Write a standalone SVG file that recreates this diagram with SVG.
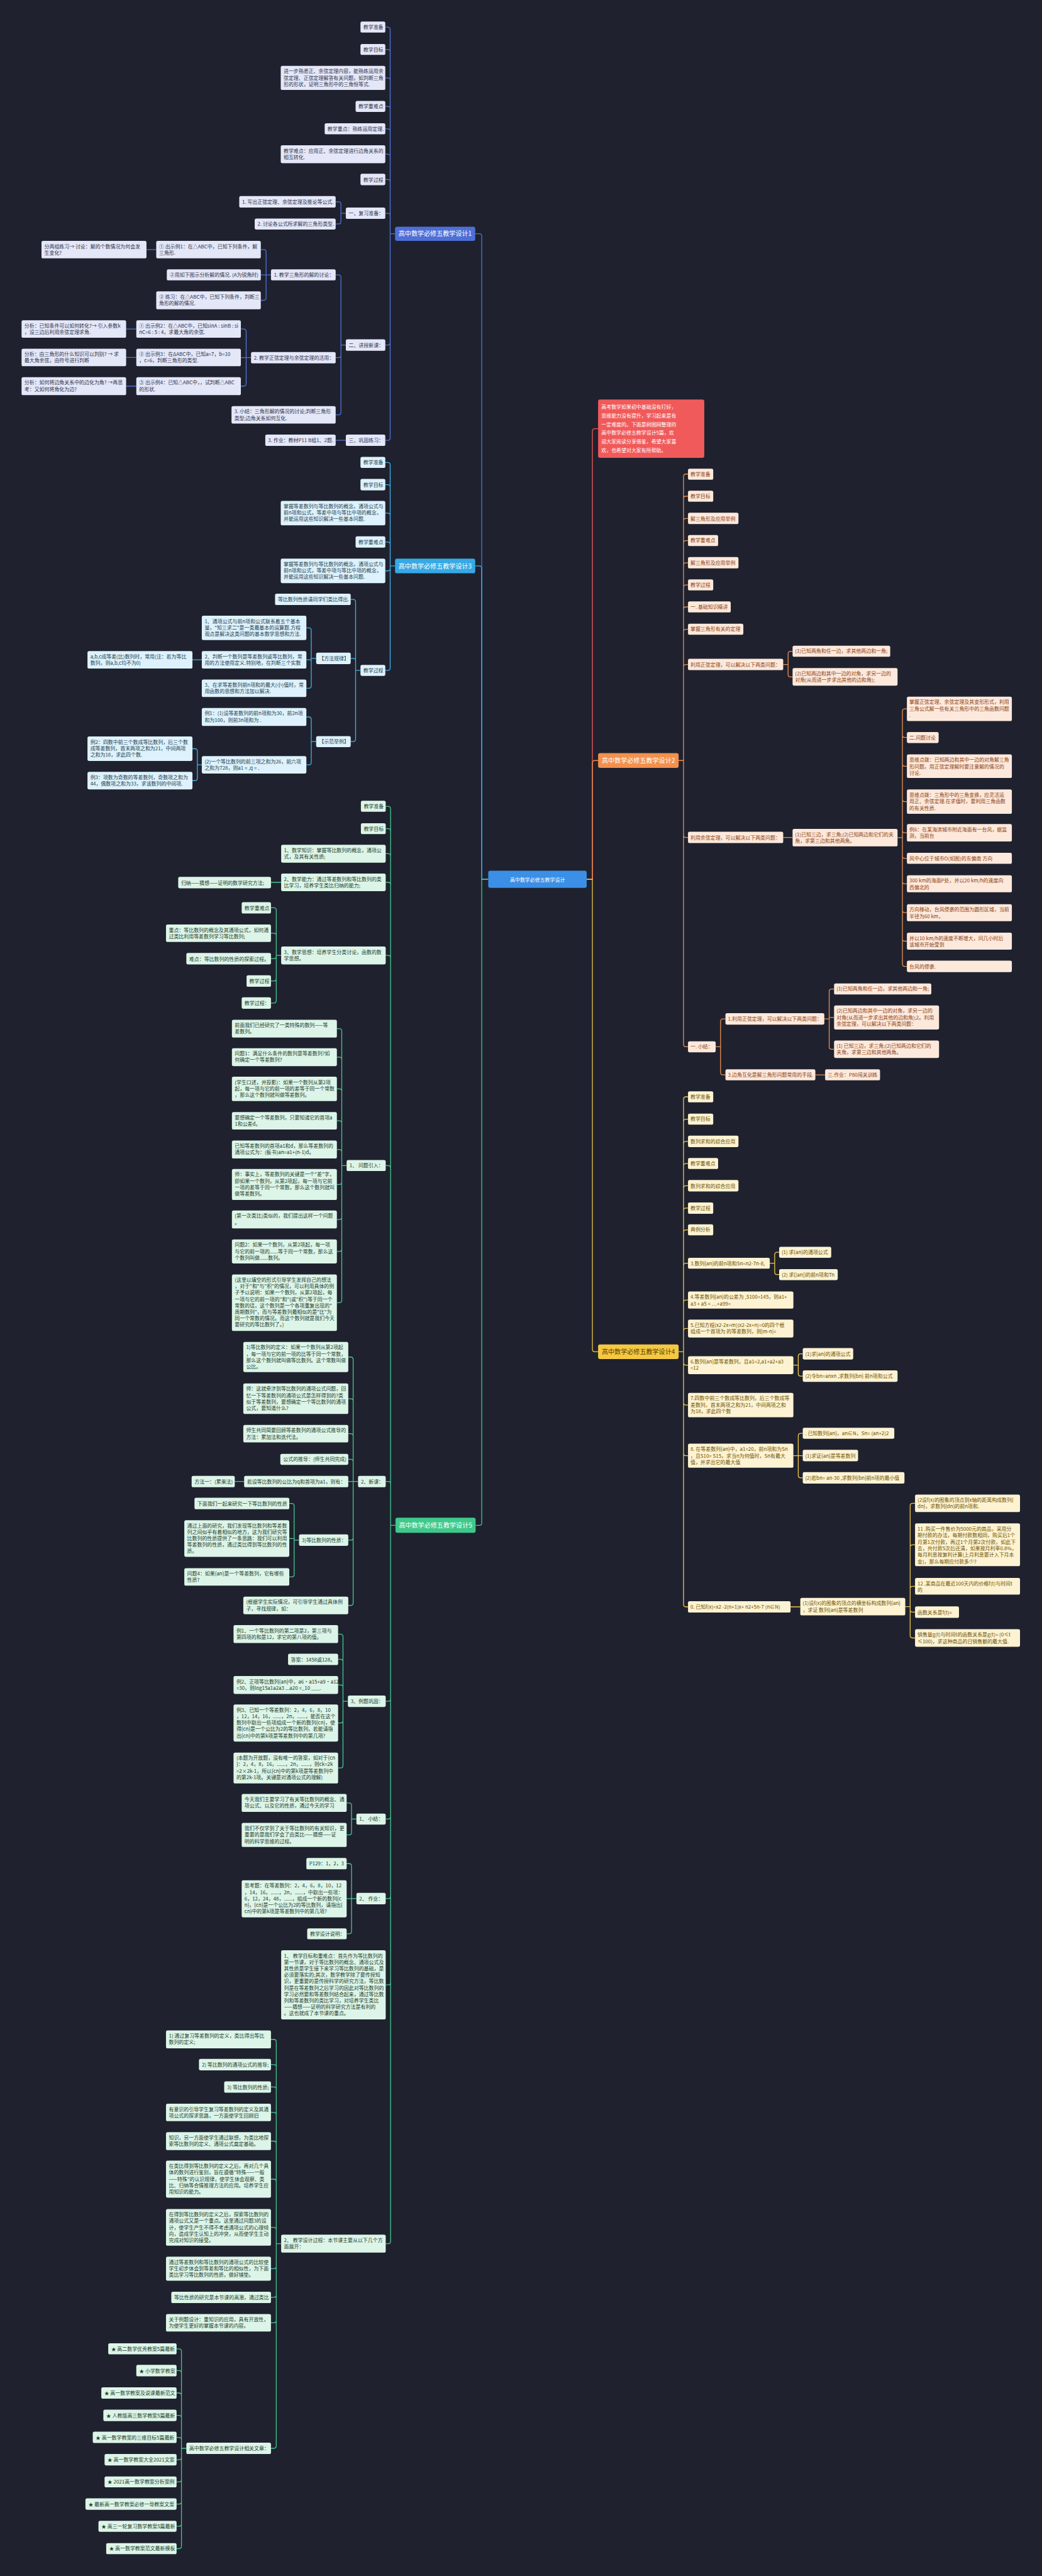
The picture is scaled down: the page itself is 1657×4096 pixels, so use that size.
<svg xmlns="http://www.w3.org/2000/svg" width="1657" height="4096" viewBox="0 0 1657 4096">
<style>
text{font-family:"Noto Sans CJK SC","Noto Sans",sans-serif;font-size:12.3px}
.bl rect{fill:#e4e7f8}.bl text{fill:#2d3248}
.cy rect{fill:#ddf2fc}.cy text{fill:#1f3c4c}
.gr rect{fill:#dcf5e8}.gr text{fill:#1f3a2c}
.or rect{fill:#fde9dc}.or text{fill:#8a3e10}
.ye rect{fill:#fdf3d3}.ye text{fill:#6e5200}
.br text{font-size:15.6px;text-anchor:middle}
path{fill:none;stroke-width:2}
.cbl{stroke:#5272d9}.ccy{stroke:#3fb0ea}.cgr{stroke:#45c890}.cor{stroke:#ec8f52}.cye{stroke:#f0c845}.cre{stroke:#f05a5a}
</style>
<rect width="1657" height="4096" fill="#1f222e"/>
<g transform="scale(0.647)">
<g id="connectors">
<path class="cbl" d="M1200,2161 H1184 V580.5 Q1184,574.5 1178,574.5 H1168 M971,574.5 H959 M959,72.5 V1076 M959,72.5 Q959,66.5 953,66.5 H947 M959,127.5 Q959,121.5 953,121.5 H947 M959,197.5 Q959,191.5 953,191.5 H947 M959,267.5 Q959,261.5 953,261.5 H947 M959,322.5 Q959,316.5 953,316.5 H947 M959,385 Q959,379 953,379 H947 M959,447 Q959,441 953,441 H947 M959,530 Q959,524 953,524 H947 M959,842 Q959,848 953,848 H947 M959,1076 Q959,1082 953,1082 H947 M850,524 H838 M838,502 V544.5 M838,502 Q838,496 832,496 H825 M838,544.5 Q838,550.5 832,550.5 H825 M850,848 H838 M838,681.5 V1013.5 M838,681.5 Q838,675.5 832,675.5 H825 M838,873 Q838,879 832,879 H825 M838,1013.5 Q838,1019.5 832,1019.5 H825 M666,675.5 H641 M654,619.5 V732 M654,619.5 Q654,613.5 648,613.5 H641 M654,732 Q654,738 648,738 H641 M384,613.5 H360 M850,1082 H825 M617,879 H592 M605,814.5 V943 M605,814.5 Q605,808.5 599,808.5 H592 M605,943 Q605,949 599,949 H592 M335,808.5 H310 M335,878.5 H310 M335,949 H310"/>
<path class="ccy" d="M1200,2161 H1184 V1397 Q1184,1391 1178,1391 H1168 M971,1391 H959 M959,1142.5 V1641.5 M959,1142.5 Q959,1136.5 953,1136.5 H947 M959,1197 Q959,1191 953,1191 H947 M959,1267 Q959,1261 953,1261 H947 M959,1338 Q959,1332 953,1332 H947 M959,1397 Q959,1403 953,1403 H947 M959,1641.5 Q959,1647.5 953,1647.5 H947 M886,1647.5 H874 M874,1479 V1816 M874,1479 Q874,1473 868,1473 H862 M874,1624 Q874,1618 868,1618 H862 M874,1816 Q874,1822.5 868,1822.5 H862 M777,1618 H765 M765,1549 V1685.5 M765,1549 Q765,1543 759,1543 H753 M765,1621.5 H753 M765,1685.5 Q765,1691.5 759,1691.5 H753 M496,1621.5 H473 M777,1822.5 H765 M765,1768 V1873.5 M765,1768 Q765,1762 759,1762 H753 M765,1873.5 Q765,1879.5 759,1879.5 H753 M496,1879.5 H485 M485,1846 V1912.5 M485,1846 Q485,1840 479,1840 H473 M485,1912.5 Q485,1918.5 479,1918.5 H473"/>
<path class="cgr" d="M1200,2161 H1184 V3742.5 Q1184,3748.5 1178,3748.5 H1169 M972,3748.5 H960 M960,1987.5 V5508 M960,1987.5 Q960,1981.5 954,1981.5 H948 M960,2042.5 Q960,2036.5 954,2036.5 H948 M960,2104 Q960,2098 954,2098 H948 M960,2174.5 Q960,2168.5 954,2168.5 H948 M960,2354 Q960,2348 954,2348 H948 M960,2870.5 Q960,2864.5 954,2864.5 H948 M960,3647 Q960,3641 954,3641 H948 M960,4175 Q960,4181 954,4181 H948 M960,4464.5 Q960,4470.5 954,4470.5 H948 M960,4660 Q960,4666 954,4666 H948 M960,4872 Q960,4878 954,4878 H948 M960,5508 Q960,5514 954,5514 H948 M691,2168.5 H666 M691,2348 H679 M679,2237 V2459 M679,2237 Q679,2231 673,2231 H666 M679,2299.5 Q679,2293.5 673,2293.5 H666 M679,2350 Q679,2356 673,2356 H666 M679,2405 Q679,2411 673,2411 H666 M679,2459 Q679,2465 673,2465 H666 M852,2864.5 H840 M840,2534 V3195.5 M840,2534 Q840,2528 834,2528 H828 M840,2604 Q840,2598 834,2598 H828 M840,2682 Q840,2676 834,2676 H828 M840,2760.5 Q840,2754.5 834,2754.5 H828 M840,2831 Q840,2825 834,2825 H828 M840,2905 Q840,2911 834,2911 H828 M840,2991 Q840,2997 834,2997 H828 M840,3069.5 Q840,3075.5 834,3075.5 H828 M840,3195.5 Q840,3201.5 834,3201.5 H828 M880,3641 H856 M868,3341 V3939.5 M868,3341 Q868,3335 862,3335 H856 M868,3443.5 Q868,3437.5 862,3437.5 H856 M868,3529.5 Q868,3523.5 862,3523.5 H856 M868,3592.5 Q868,3586.5 862,3586.5 H856 M868,3779 Q868,3785 862,3785 H856 M868,3939.5 Q868,3945.5 862,3945.5 H856 M600,3641 H577 M735,3785 H723 M723,3701 V3869.5 M723,3701 Q723,3695 717,3695 H711 M723,3781 H711 M723,3869.5 Q723,3875.5 717,3875.5 H711 M855,4181 H843 M843,4022 V4339 M843,4022 Q843,4016 837,4016 H831 M843,4084 Q843,4078 837,4078 H831 M843,4147 Q843,4141 837,4141 H831 M843,4228.5 Q843,4234.5 837,4234.5 H831 M843,4339 Q843,4345 837,4345 H831 M876,4470.5 H864 M864,4437 V4503.5 M864,4437 Q864,4431 858,4431 H852 M864,4503.5 Q864,4509.5 858,4509.5 H852 M876,4666 H852 M864,4586 V4746.5 M864,4586 Q864,4580 858,4580 H852 M864,4746.5 Q864,4752.5 858,4752.5 H852 M691,5514 H679 M679,5018 V6011 M679,5018 Q679,5012 673,5012 H666 M679,5080 Q679,5074 673,5074 H666 M679,5135 Q679,5129 673,5129 H666 M679,5197.5 Q679,5191.5 673,5191.5 H666 M679,5268 Q679,5262 673,5262 H666 M679,5361.5 Q679,5355.5 673,5355.5 H666 M679,5480 Q679,5474 673,5474 H666 M679,5569.5 Q679,5575.5 673,5575.5 H666 M679,5640 Q679,5646 673,5646 H666 M679,5702.5 Q679,5708.5 673,5708.5 H666 M679,6011 Q679,6017 673,6017 H666 M458,6017 H446 M446,5778.5 V6257.5 M446,5778.5 Q446,5772.5 440,5772.5 H434 M446,5832 Q446,5826 440,5826 H434 M446,5887 Q446,5881 440,5881 H434 M446,5942 Q446,5936 440,5936 H434 M446,5996 Q446,5990 440,5990 H434 M446,6039 Q446,6045 440,6045 H434 M446,6093.5 Q446,6099.5 440,6099.5 H434 M446,6148 Q446,6154 440,6154 H434 M446,6202.5 Q446,6208.5 440,6208.5 H434 M446,6257.5 Q446,6263.5 440,6263.5 H434"/>
<path class="cre" d="M1442,2161 H1456 V1059.5 Q1456,1053.5 1462,1053.5 H1470"/>
<path class="cor" d="M1442,2161 H1456 V1875 Q1456,1869 1462,1869 H1470 M1668,1869 H1680 M1680,1171 V2566.5 M1680,1171 Q1680,1165 1686,1165 H1691 M1680,1225.5 Q1680,1219.5 1686,1219.5 H1691 M1680,1280 Q1680,1274 1686,1274 H1691 M1680,1334.5 Q1680,1328.5 1686,1328.5 H1691 M1680,1389 Q1680,1383 1686,1383 H1691 M1680,1443.5 Q1680,1437.5 1686,1437.5 H1691 M1680,1497.5 Q1680,1491.5 1686,1491.5 H1691 M1680,1552.5 Q1680,1546.5 1686,1546.5 H1691 M1680,1639 Q1680,1633 1686,1633 H1691 M1680,2052 Q1680,2058 1686,2058 H1691 M1680,2566.5 Q1680,2572.5 1686,2572.5 H1691 M1925,1633 H1937 M1937,1606.5 V1657.5 M1937,1606.5 Q1937,1600.5 1943,1600.5 H1948 M1937,1657.5 Q1937,1663.5 1943,1663.5 H1948 M1925,2058 H1948 M2206,2058.5 H2218 M2218,1748 V2369 M2218,1748 Q2218,1742 2224,1742 H2229 M2218,1806.5 Q2218,1812.5 2224,1812.5 H2229 M2218,1877 Q2218,1883 2224,1883 H2229 M2218,1964 Q2218,1970 2224,1970 H2229 M2218,2040.5 Q2218,2046.5 2224,2046.5 H2229 M2218,2103.5 Q2218,2109.5 2224,2109.5 H2229 M2218,2166 Q2218,2172 2224,2172 H2229 M2218,2237 Q2218,2243 2224,2243 H2229 M2218,2307 Q2218,2313 2224,2313 H2229 M2218,2369 Q2218,2375 2224,2375 H2229 M1759,2572.5 H1771 M1771,2510 V2635.5 M1771,2510 Q1771,2504 1777,2504 H1783 M1771,2635.5 Q1771,2641.5 1777,2641.5 H1783 M2026,2504 H2038 M2038,2436.5 V2572.5 M2038,2436.5 Q2038,2430.5 2044,2430.5 H2050 M2038,2500.5 H2050 M2038,2572.5 Q2038,2578.5 2044,2578.5 H2050 M2004,2641.5 H2028"/>
<path class="cye" d="M1442,2161 H1456 V3316 Q1456,3322 1462,3322 H1470 M1668,3322 H1680 M1680,2701.5 V3943 M1680,2701.5 Q1680,2695.5 1686,2695.5 H1691 M1680,2756.5 Q1680,2750.5 1686,2750.5 H1691 M1680,2811 Q1680,2805 1686,2805 H1691 M1680,2865.5 Q1680,2859.5 1686,2859.5 H1691 M1680,2920 Q1680,2914 1686,2914 H1691 M1680,2975 Q1680,2969 1686,2969 H1691 M1680,3028.5 Q1680,3022.5 1686,3022.5 H1691 M1680,3110.5 Q1680,3104.5 1686,3104.5 H1691 M1680,3201 Q1680,3195 1686,3195 H1691 M1680,3271 Q1680,3265 1686,3265 H1691 M1680,3349 Q1680,3355 1686,3355 H1691 M1680,3447 Q1680,3453 1686,3453 H1691 M1680,3571.5 Q1680,3577.5 1686,3577.5 H1691 M1680,3943 Q1680,3949 1686,3949 H1691 M1892,3104.5 H1904 M1904,3083.5 V3126.5 M1904,3083.5 Q1904,3077.5 1910,3077.5 H1915 M1904,3126.5 Q1904,3132.5 1910,3132.5 H1915 M1950,3355 H1962 M1962,3333 V3376 M1962,3333 Q1962,3327 1968,3327 H1973 M1962,3376 Q1962,3382 1968,3382 H1973 M1950,3577.5 H1973 M1962,3528.5 V3626 M1962,3528.5 Q1962,3522.5 1968,3522.5 H1973 M1962,3626 Q1962,3632 1968,3632 H1973 M1943,3949 H1967 M2225,3948.5 H2237 M2237,3700.5 V4019.5 M2237,3700.5 Q2237,3694.5 2243,3694.5 H2249 M2237,3802.5 Q2237,3796.5 2243,3796.5 H2249 M2237,3904.5 Q2237,3898.5 2243,3898.5 H2249 M2237,3956 Q2237,3962 2243,3962 H2249 M2237,4019.5 Q2237,4025.5 2243,4025.5 H2249"/>
</g>
<g id="center"><rect x="1200" y="2140" width="242" height="42" rx="5" fill="#3b8fe6"/><text x="1321" y="2167" font-size="18" fill="#fff" text-anchor="middle">高中数学必修五教学设计</text></g>
<g id="intro"><rect x="1470" y="982" width="261" height="143" rx="5" fill="#f05a5a"/><text x="1478" y="1005" font-size="15" fill="#fff">高考数学如果初中基础没有打好，<tspan x="1478" dy="21.2">思维能力没有提升，学习起来是有</tspan><tspan x="1478" dy="21.2">一定难度的。下面是树图网整理的</tspan><tspan x="1478" dy="21.2">高中数学必修五教学设计5篇，欢</tspan><tspan x="1478" dy="21.2">迎大家阅读分享借鉴，希望大家喜</tspan><tspan x="1478" dy="21.2">欢，也希望对大家有所帮助。</tspan></text></g>
<g id="br1" class="br"><rect x="971" y="557" width="197" height="35" rx="5" fill="#4f6fd8"/><text x="1069.5" y="580" fill="#fff">高中数学必修五教学设计1</text></g>
<g id="br3" class="br"><rect x="971" y="1373" width="197" height="36" rx="5" fill="#36a9e6"/><text x="1069.5" y="1396.5" fill="#fff">高中数学必修五教学设计3</text></g>
<g id="br5" class="br"><rect x="972" y="3730" width="197" height="37" rx="5" fill="#3ec98b"/><text x="1070.5" y="3754" fill="#fff">高中数学必修五教学设计5</text></g>
<g id="br2" class="br"><rect x="1470" y="1851" width="198" height="36" rx="5" fill="#f2904c"/><text x="1569" y="1874.5" fill="#fff">高中数学必修五教学设计2</text></g>
<g id="br4" class="br"><rect x="1470" y="3304" width="198" height="36" rx="5" fill="#f5c842"/><text x="1569" y="3327.5" fill="#5a3f00">高中数学必修五教学设计4</text></g>

<g id="b1-01" class="bl"><rect x="886" y="53" width="61" height="27" rx="4"/><text x="893" y="71">教学准备</text></g>
<g id="b1-02" class="bl"><rect x="886" y="108" width="61" height="27" rx="4"/><text x="893" y="126">教学目标</text></g>
<g id="b1-03" class="bl"><rect x="690" y="162" width="257" height="59" rx="4"/><text x="697" y="180">进一步熟悉正、余弦定理内容，能熟练运用余<tspan x="697" dy="15.7">弦定理、正弦定理解答有关问题，如判断三角</tspan><tspan x="697" dy="15.7">形的形状，证明三角形中的三角恒等式.</tspan></text></g>
<g id="b1-04" class="bl"><rect x="874" y="248" width="73" height="27" rx="4"/><text x="881" y="266">教学重难点</text></g>
<g id="b1-05" class="bl"><rect x="798" y="303" width="149" height="27" rx="4"/><text x="805" y="321">教学重点：熟练运用定理.</text></g>
<g id="b1-06" class="bl"><rect x="690" y="357" width="257" height="44" rx="4"/><text x="697" y="375">教学难点：应用正、余弦定理进行边角关系的<tspan x="697" dy="15.7">相互转化.</tspan></text></g>
<g id="b1-07" class="bl"><rect x="886" y="427" width="61" height="28" rx="4"/><text x="893" y="446">教学过程</text></g>
<g id="b1-08" class="bl"><rect x="850" y="510" width="97" height="28" rx="4"/><text x="857" y="529">一、复习准备：</text></g>
<g id="b1-09" class="bl"><rect x="588" y="482" width="237" height="28" rx="4"/><text x="595" y="501">1. 写出正弦定理、余弦定理及推论等公式.</text></g>
<g id="b1-10" class="bl"><rect x="626" y="537" width="199" height="27" rx="4"/><text x="633" y="555">2. 讨论各公式所求解的三角形类型.</text></g>
<g id="b1-11" class="bl"><rect x="850" y="834" width="97" height="28" rx="4"/><text x="857" y="853">二、讲授新课：</text></g>
<g id="b1-12" class="bl"><rect x="666" y="662" width="159" height="27" rx="4"/><text x="673" y="680">1. 教学三角形的解的讨论：</text></g>
<g id="b1-13" class="bl"><rect x="384" y="592" width="257" height="43" rx="4"/><text x="391" y="610">① 出示例1：在△ABC中，已知下列条件，解<tspan x="391" dy="15.7">三角形.</tspan></text></g>
<g id="b1-14" class="bl"><rect x="102" y="592" width="258" height="43" rx="4"/><text x="109" y="610">分两组练习→ 讨论：解的个数情况为何会发<tspan x="109" dy="15.7">生变化?</tspan></text></g>
<g id="b1-15" class="bl"><rect x="410" y="662" width="231" height="27" rx="4"/><text x="417" y="680">②用如下图示分析解的情况. (A为锐角时)</text></g>
<g id="b1-16" class="bl"><rect x="384" y="716" width="257" height="44" rx="4"/><text x="391" y="734">② 练习：在△ABC中，已知下列条件，判断三<tspan x="391" dy="15.7">角形的解的情况.</tspan></text></g>
<g id="b1-17" class="bl"><rect x="617" y="865" width="208" height="28" rx="4"/><text x="624" y="884">2. 教学正弦定理与余弦定理的活用：</text></g>
<g id="b1-18" class="bl"><rect x="335" y="787" width="257" height="43" rx="4"/><text x="342" y="805">① 出示例2：在△ABC中，已知sinA : sinB : si<tspan x="342" dy="15.7">nC=6 : 5 : 4，求最大角的余弦.</tspan></text></g>
<g id="b1-19" class="bl"><rect x="53" y="787" width="257" height="43" rx="4"/><text x="60" y="805">分析：已知条件可以如何转化?→ 引入参数k<tspan x="60" dy="15.7">，设三边后利用余弦定理求角.</tspan></text></g>
<g id="b1-20" class="bl"><rect x="335" y="857" width="257" height="43" rx="4"/><text x="342" y="875">② 出示例3：在ΔABC中，已知a=7，b=10<tspan x="342" dy="15.7">，c=6，判断三角形的类型.</tspan></text></g>
<g id="b1-21" class="bl"><rect x="53" y="857" width="257" height="43" rx="4"/><text x="60" y="875">分析：由三角形的什么知识可以判别? → 求<tspan x="60" dy="15.7">最大角余弦，由符号进行判断</tspan></text></g>
<g id="b1-22" class="bl"><rect x="335" y="927" width="257" height="44" rx="4"/><text x="342" y="945">③ 出示例4：已知△ABC中，，试判断△ABC<tspan x="342" dy="15.7">的形状.</tspan></text></g>
<g id="b1-23" class="bl"><rect x="53" y="927" width="257" height="44" rx="4"/><text x="60" y="945">分析：如何将边角关系中的边化为角? →再思<tspan x="60" dy="15.7">考：又如何将角化为边?</tspan></text></g>
<g id="b1-24" class="bl"><rect x="569" y="998" width="256" height="43" rx="4"/><text x="576" y="1016">3. 小结：三角形解的情况的讨论;判断三角形<tspan x="576" dy="15.7">类型;边角关系如何互化.</tspan></text></g>
<g id="b1-25" class="bl"><rect x="850" y="1068" width="97" height="28" rx="4"/><text x="857" y="1087">三、巩固练习：</text></g>
<g id="b1-26" class="bl"><rect x="652" y="1068" width="173" height="28" rx="4"/><text x="659" y="1087">3. 作业：教材P11 B组1、2题.</text></g>

<g id="b3-01" class="cy"><rect x="886" y="1123" width="61" height="27" rx="4"/><text x="893" y="1141">教学准备</text></g>
<g id="b3-02" class="cy"><rect x="886" y="1177" width="61" height="28" rx="4"/><text x="893" y="1196">教学目标</text></g>
<g id="b3-03" class="cy"><rect x="690" y="1231" width="257" height="60" rx="4"/><text x="697" y="1249">掌握等差数列与等比数列的概念，通项公式与<tspan x="697" dy="15.7">前n项和公式，等差中项与等比中项的概念，</tspan><tspan x="697" dy="15.7">并能运用这些知识解决一些基本问题.</tspan></text></g>
<g id="b3-04" class="cy"><rect x="874" y="1318" width="73" height="28" rx="4"/><text x="881" y="1337">教学重难点</text></g>
<g id="b3-05" class="cy"><rect x="690" y="1373" width="257" height="60" rx="4"/><text x="697" y="1391">掌握等差数列与等比数列的概念，通项公式与<tspan x="697" dy="15.7">前n项和公式，等差中项与等比中项的概念，</tspan><tspan x="697" dy="15.7">并能运用这些知识解决一些基本问题.</tspan></text></g>
<g id="b3-06" class="cy"><rect x="886" y="1634" width="61" height="27" rx="4"/><text x="893" y="1652">教学过程</text></g>
<g id="b3-07" class="cy"><rect x="676" y="1459" width="186" height="28" rx="4"/><text x="683" y="1478">等比数列性质请同学们类比得出.</text></g>
<g id="b3-08" class="cy"><rect x="777" y="1604" width="85" height="28" rx="4"/><text x="784" y="1623">【方法规律】</text></g>
<g id="b3-09" class="cy"><rect x="496" y="1513" width="257" height="60" rx="4"/><text x="503" y="1531">1、通项公式与前n项和公式联系着五个基本<tspan x="503" dy="15.7">量，"知三求二"是一类最基本的运算题.方程</tspan><tspan x="503" dy="15.7">观点是解决这类问题的基本数学思想和方法.</tspan></text></g>
<g id="b3-10" class="cy"><rect x="496" y="1600" width="257" height="43" rx="4"/><text x="503" y="1618">2、判断一个数列是等差数列或等比数列，常<tspan x="503" dy="15.7">用的方法使用定义.特别地，在判断三个实数</tspan></text></g>
<g id="b3-11" class="cy"><rect x="215" y="1600" width="258" height="43" rx="4"/><text x="222" y="1618">a,b,c成等差(比)数列时，常用(注：若为等比<tspan x="222" dy="15.7">数列，则a,b,c均不为0)</tspan></text></g>
<g id="b3-12" class="cy"><rect x="496" y="1670" width="257" height="43" rx="4"/><text x="503" y="1688">3、在求等差数列前n项和的最大(小)值时，常<tspan x="503" dy="15.7">用函数的思想和方法加以解决.</tspan></text></g>
<g id="b3-13" class="cy"><rect x="777" y="1809" width="85" height="27" rx="4"/><text x="784" y="1827">【示范举例】</text></g>
<g id="b3-14" class="cy"><rect x="496" y="1740" width="257" height="44" rx="4"/><text x="503" y="1758">例1：(1)设等差数列的前n项和为30，前2n项<tspan x="503" dy="15.7">和为100，则前3n项和为 .</tspan></text></g>
<g id="b3-15" class="cy"><rect x="496" y="1858" width="257" height="43" rx="4"/><text x="503" y="1876">(2)一个等比数列的前三项之和为26，前六项<tspan x="503" dy="15.7">之和为728，则a1 = ,q = .</tspan></text></g>
<g id="b3-16" class="cy"><rect x="215" y="1810" width="258" height="60" rx="4"/><text x="222" y="1828">例2：四数中前三个数成等比数列，后三个数<tspan x="222" dy="15.7">成等差数列，首末两项之和为21，中间两项</tspan><tspan x="222" dy="15.7">之和为18，求此四个数.</tspan></text></g>
<g id="b3-17" class="cy"><rect x="215" y="1897" width="258" height="43" rx="4"/><text x="222" y="1915">例3：项数为奇数的等差数列，奇数项之和为<tspan x="222" dy="15.7">44，偶数项之和为33，求该数列的中间项.</tspan></text></g>

<g id="b5-01" class="gr"><rect x="887" y="1968" width="61" height="27" rx="4"/><text x="894" y="1986">教学准备</text></g>
<g id="b5-02" class="gr"><rect x="887" y="2023" width="61" height="27" rx="4"/><text x="894" y="2041">教学目标</text></g>
<g id="b5-03" class="gr"><rect x="691" y="2076" width="257" height="44" rx="4"/><text x="698" y="2094">1、数学知识：掌握等比数列的概念，通项公<tspan x="698" dy="15.7">式，及其有关性质;</tspan></text></g>
<g id="b5-04" class="gr"><rect x="691" y="2147" width="257" height="43" rx="4"/><text x="698" y="2165">2、数学能力：通过等差数列和等比数列的类<tspan x="698" dy="15.7">比学习，培养学生类比归纳的能力;</tspan></text></g>
<g id="b5-05" class="gr"><rect x="438" y="2155" width="228" height="28" rx="4"/><text x="445" y="2174">归纳——猜想——证明的数学研究方法;</text></g>
<g id="b5-06" class="gr"><rect x="691" y="2326" width="257" height="44" rx="4"/><text x="698" y="2344">3、数学思想：培养学生分类讨论，函数的数<tspan x="698" dy="15.7">学思想。</tspan></text></g>
<g id="b5-07" class="gr"><rect x="594" y="2217" width="72" height="28" rx="4"/><text x="601" y="2236">教学重难点</text></g>
<g id="b5-08" class="gr"><rect x="408" y="2272" width="258" height="43" rx="4"/><text x="415" y="2290">重点：等比数列的概念及其通项公式，如何通<tspan x="415" dy="15.7">过类比利用等差数列学习等比数列;</tspan></text></g>
<g id="b5-09" class="gr"><rect x="458" y="2342" width="208" height="28" rx="4"/><text x="465" y="2361">难点：等比数列的性质的探索过程。</text></g>
<g id="b5-10" class="gr"><rect x="606" y="2397" width="60" height="28" rx="4"/><text x="613" y="2416">教学过程</text></g>
<g id="b5-11" class="gr"><rect x="594" y="2451" width="72" height="28" rx="4"/><text x="601" y="2470">教学过程：</text></g>
<g id="b5-12" class="gr"><rect x="852" y="2851" width="96" height="27" rx="4"/><text x="859" y="2869">1、 问题引入：</text></g>
<g id="b5-13" class="gr"><rect x="570" y="2506" width="258" height="44" rx="4"/><text x="577" y="2524">前面我们已经研究了一类特殊的数列——等<tspan x="577" dy="15.7">差数列。</tspan></text></g>
<g id="b5-14" class="gr"><rect x="570" y="2576" width="258" height="44" rx="4"/><text x="577" y="2594">问题1：满足什么条件的数列是等差数列?如<tspan x="577" dy="15.7">何确定一个等差数列?</tspan></text></g>
<g id="b5-15" class="gr"><rect x="570" y="2646" width="258" height="60" rx="4"/><text x="577" y="2664">(学生口述，并投影)：如果一个数列从第2项<tspan x="577" dy="15.7">起，每一项与它的前一项的差等于同一个常数</tspan><tspan x="577" dy="15.7">，那么这个数列就叫做等差数列。</tspan></text></g>
<g id="b5-16" class="gr"><rect x="570" y="2733" width="258" height="43" rx="4"/><text x="577" y="2751">要想确定一个等差数列，只要知道它的首项a<tspan x="577" dy="15.7">1和公差d。</tspan></text></g>
<g id="b5-17" class="gr"><rect x="570" y="2803" width="258" height="44" rx="4"/><text x="577" y="2821">已知等差数列的首项a1和d，那么等差数列的<tspan x="577" dy="15.7">通项公式为：(板书)an=a1+(n-1)d。</tspan></text></g>
<g id="b5-18" class="gr"><rect x="570" y="2873" width="258" height="76" rx="4"/><text x="577" y="2891">师：事实上，等差数列的关键是一个"差"字，<tspan x="577" dy="15.7">即如果一个数列，从第2项起，每一项与它前</tspan><tspan x="577" dy="15.7">一项的差等于同一个常数，那么这个数列就叫</tspan><tspan x="577" dy="15.7">做等差数列。</tspan></text></g>
<g id="b5-19" class="gr"><rect x="570" y="2975" width="258" height="44" rx="4"/><text x="577" y="2993">(第一次类比)类似的，我们提出这样一个问题<tspan x="577" dy="15.7">。</tspan></text></g>
<g id="b5-20" class="gr"><rect x="570" y="3046" width="258" height="59" rx="4"/><text x="577" y="3064">问题2：如果一个数列，从第2项起，每一项<tspan x="577" dy="15.7">与它的前一项的......等于同一个常数，那么这</tspan><tspan x="577" dy="15.7">个数列叫做......数列。</tspan></text></g>
<g id="b5-21" class="gr"><rect x="570" y="3132" width="258" height="139" rx="4"/><text x="577" y="3150">(这里以填空的形式引导学生发挥自己的想法<tspan x="577" dy="15.7">，对于"和"与"积"的情况，可以利用具体的例</tspan><tspan x="577" dy="15.7">子予以说明：如果一个数列，从第2项起，每</tspan><tspan x="577" dy="15.7">一项与它的前一项的"和"(或"积")等于同一个</tspan><tspan x="577" dy="15.7">常数的话，这个数列是一个各项重复出现的"</tspan><tspan x="577" dy="15.7">周期数列"，而与等差数列最相似的是"比"为</tspan><tspan x="577" dy="15.7">同一个常数的情况。而这个数列就是我们今天</tspan><tspan x="577" dy="15.7">要研究的等比数列了。)</tspan></text></g>
<g id="b5-22" class="gr"><rect x="880" y="3627" width="68" height="28" rx="4"/><text x="887" y="3646">2、新课：</text></g>
<g id="b5-23" class="gr"><rect x="598" y="3298" width="258" height="74" rx="4"/><text x="605" y="3316">1)等比数列的定义：如果一个数列从第2项起<tspan x="605" dy="15.7">，每一项与它的前一项的比等于同一个常数，</tspan><tspan x="605" dy="15.7">那么这个数列就叫做等比数列。这个常数叫做</tspan><tspan x="605" dy="15.7">公比。</tspan></text></g>
<g id="b5-24" class="gr"><rect x="598" y="3400" width="258" height="75" rx="4"/><text x="605" y="3418">师：这就牵涉到等比数列的通项公式问题，回<tspan x="605" dy="15.7">忆一下等差数列的通项公式是怎样得到的?类</tspan><tspan x="605" dy="15.7">似于等差数列，要想确定一个等比数列的通项</tspan><tspan x="605" dy="15.7">公式，要知道什么?</tspan></text></g>
<g id="b5-25" class="gr"><rect x="598" y="3502" width="258" height="43" rx="4"/><text x="605" y="3520">师生共同简要回顾等差数列的通项公式推导的<tspan x="605" dy="15.7">方法：累加法和迭代法。</tspan></text></g>
<g id="b5-26" class="gr"><rect x="689" y="3573" width="167" height="27" rx="4"/><text x="696" y="3591">公式的推导：(师生共同完成)</text></g>
<g id="b5-27" class="gr"><rect x="600" y="3627" width="256" height="28" rx="4"/><text x="607" y="3646">若设等比数列的公比为q和首项为a1，则有：</text></g>
<g id="b5-28" class="gr"><rect x="471" y="3627" width="106" height="28" rx="4"/><text x="478" y="3646">方法一：(累乘法)</text></g>
<g id="b5-29" class="gr"><rect x="735" y="3771" width="121" height="28" rx="4"/><text x="742" y="3790">3)等比数列的性质：</text></g>
<g id="b5-30" class="gr"><rect x="478" y="3681" width="233" height="28" rx="4"/><text x="485" y="3700">下面我们一起来研究一下等比数列的性质</text></g>
<g id="b5-31" class="gr"><rect x="453" y="3736" width="258" height="90" rx="4"/><text x="460" y="3754">通过上面的研究，我们发现等比数列和等差数<tspan x="460" dy="15.7">列之间似乎有着相似的地方，这为我们研究等</tspan><tspan x="460" dy="15.7">比数列的性质提供了一条思路：我们可以利用</tspan><tspan x="460" dy="15.7">等差数列的性质，通过类比得到等比数列的性</tspan><tspan x="460" dy="15.7">质。</tspan></text></g>
<g id="b5-32" class="gr"><rect x="453" y="3854" width="258" height="43" rx="4"/><text x="460" y="3872">问题4：如果{an}是一个等差数列，它有哪些<tspan x="460" dy="15.7">性质?</tspan></text></g>
<g id="b5-33" class="gr"><rect x="598" y="3924" width="258" height="43" rx="4"/><text x="605" y="3942">(根据学生实际情况，可引导学生通过具体例<tspan x="605" dy="15.7">子，寻找规律，如：</tspan></text></g>
<g id="b5-34" class="gr"><rect x="855" y="4167" width="93" height="28" rx="4"/><text x="862" y="4186">3、例题巩固：</text></g>
<g id="b5-35" class="gr"><rect x="574" y="3994" width="257" height="44" rx="4"/><text x="581" y="4012">例1、一个等比数列的第二项是2，第三项与<tspan x="581" dy="15.7">第四项的和是12，求它的第八项的值。</tspan></text></g>
<g id="b5-36" class="gr"><rect x="708" y="4064" width="123" height="28" rx="4"/><text x="715" y="4083">答案：1458或128。</text></g>
<g id="b5-37" class="gr"><rect x="574" y="4119" width="257" height="44" rx="4"/><text x="581" y="4137">例2、正项等比数列{an}中，a6·a15+a9·a12<tspan x="581" dy="15.7">=30，则log15a1a2a3 ...a20 =_10 ___.</tspan></text></g>
<g id="b5-38" class="gr"><rect x="574" y="4189" width="257" height="91" rx="4"/><text x="581" y="4207">例3、已知一个等差数列：2，4，6，8，10<tspan x="581" dy="15.7">，12，14，16，......，2n，......，能否在这个</tspan><tspan x="581" dy="15.7">数列中取出一些项组成一个新的数列{cn}，使</tspan><tspan x="581" dy="15.7">得{cn}是一个公比为2的等比数列，若能请指</tspan><tspan x="581" dy="15.7">出{cn}中的第k项是等差数列中的第几项?</tspan></text></g>
<g id="b5-39" class="gr"><rect x="574" y="4307" width="257" height="76" rx="4"/><text x="581" y="4325">(本题为开放题，没有唯一的答案，如对于{cn<tspan x="581" dy="15.7">}：2，4，8，16，......，2n，......，则ck=2k</tspan><tspan x="581" dy="15.7">=2×2k-1，所以{cn}中的第k项是等差数列中</tspan><tspan x="581" dy="15.7">的第2k-1项。关键是对通项公式的理解)</tspan></text></g>
<g id="b5-40" class="gr"><rect x="876" y="4457" width="72" height="27" rx="4"/><text x="883" y="4475">1、 小结：</text></g>
<g id="b5-41" class="gr"><rect x="594" y="4409" width="258" height="44" rx="4"/><text x="601" y="4427">今天我们主要学习了有关等比数列的概念、通<tspan x="601" dy="15.7">项公式、以及它的性质，通过今天的学习</tspan></text></g>
<g id="b5-42" class="gr"><rect x="594" y="4480" width="258" height="59" rx="4"/><text x="601" y="4498">我们不仅学到了关于等比数列的有关知识，更<tspan x="601" dy="15.7">重要的是我们学会了由类比——猜想——证</tspan><tspan x="601" dy="15.7">明的科学思维的过程。</tspan></text></g>
<g id="b5-43" class="gr"><rect x="876" y="4652" width="72" height="28" rx="4"/><text x="883" y="4671">2、 作业：</text></g>
<g id="b5-44" class="gr"><rect x="753" y="4566" width="99" height="28" rx="4"/><text x="760" y="4585">P129：1，2，3</text></g>
<g id="b5-45" class="gr"><rect x="594" y="4621" width="258" height="91" rx="4"/><text x="601" y="4639">思考题：在等差数列：2，4，6，8，10，12<tspan x="601" dy="15.7">，14，16，......，2n，......，中取出一些项：</tspan><tspan x="601" dy="15.7">6，12，24，48，......，组成一个新的数列{c</tspan><tspan x="601" dy="15.7">n}，{cn}是一个公比为2的等比数列，请指出{</tspan><tspan x="601" dy="15.7">cn}中的第k项是等差数列中的第几项?</tspan></text></g>
<g id="b5-46" class="gr"><rect x="755" y="4739" width="97" height="27" rx="4"/><text x="762" y="4757">教学设计说明：</text></g>
<g id="b5-47" class="gr"><rect x="691" y="4793" width="257" height="170" rx="4"/><text x="698" y="4811">1、 教学目标和重难点：首先作为等比数列的<tspan x="698" dy="15.7">第一节课，对于等比数列的概念、通项公式及</tspan><tspan x="698" dy="15.7">其性质是学生接下来学习等比数列的基础，是</tspan><tspan x="698" dy="15.7">必须要落实的;其次，数学教学除了要传授知</tspan><tspan x="698" dy="15.7">识，更重要的是传授科学的研究方法，等比数</tspan><tspan x="698" dy="15.7">列是在等差数列之后学习的因此对等比数列的</tspan><tspan x="698" dy="15.7">学习必然要和等差数列结合起来，通过等比数</tspan><tspan x="698" dy="15.7">列和等差数列的类比学习，对培养学生类比</tspan><tspan x="698" dy="15.7">——猜想——证明的科学研究方法是有利的</tspan><tspan x="698" dy="15.7">。这也就成了本节课的重点。</tspan></text></g>
<g id="b5-48" class="gr"><rect x="691" y="5492" width="257" height="44" rx="4"/><text x="698" y="5510">2、 教学设计过程：本节课主要从以下几个方<tspan x="698" dy="15.7">面展开：</tspan></text></g>
<g id="b5-49" class="gr"><rect x="408" y="4990" width="258" height="44" rx="4"/><text x="415" y="5008">1) 通过复习等差数列的定义，类比得出等比<tspan x="415" dy="15.7">数列的定义;</tspan></text></g>
<g id="b5-50" class="gr"><rect x="489" y="5060" width="177" height="28" rx="4"/><text x="496" y="5079">2) 等比数列的通项公式的推导;</text></g>
<g id="b5-51" class="gr"><rect x="551" y="5115" width="115" height="28" rx="4"/><text x="558" y="5134">3) 等比数列的性质;</text></g>
<g id="b5-52" class="gr"><rect x="408" y="5170" width="258" height="43" rx="4"/><text x="415" y="5188">有意识的引导学生复习等差数列的定义及其通<tspan x="415" dy="15.7">项公式的探求思路，一方面使学生回顾旧</tspan></text></g>
<g id="b5-53" class="gr"><rect x="408" y="5240" width="258" height="44" rx="4"/><text x="415" y="5258">知识，另一方面使学生通过联想，为类比地探<tspan x="415" dy="15.7">索等比数列的定义、通项公式奠定基础。</tspan></text></g>
<g id="b5-54" class="gr"><rect x="408" y="5310" width="258" height="91" rx="4"/><text x="415" y="5328">在类比得到等比数列的定义之后，再对几个具<tspan x="415" dy="15.7">体的数列进行鉴别，旨在遵循"特殊——一般</tspan><tspan x="415" dy="15.7">——特殊"的认识规律，使学生体会观察、类</tspan><tspan x="415" dy="15.7">比、归纳等合情推理方法的应用。培养学生应</tspan><tspan x="415" dy="15.7">用知识的能力。</tspan></text></g>
<g id="b5-55" class="gr"><rect x="408" y="5429" width="258" height="90" rx="4"/><text x="415" y="5447">在得到等比数列的定义之后，探索等比数列的<tspan x="415" dy="15.7">通项公式又是一个重点。这里通过问题3的设</tspan><tspan x="415" dy="15.7">计，使学生产生不得不考虑通项公式的心理倾</tspan><tspan x="415" dy="15.7">向，造成学生认知上的冲突，从而使学生主动</tspan><tspan x="415" dy="15.7">完成对知识的接受。</tspan></text></g>
<g id="b5-56" class="gr"><rect x="408" y="5546" width="258" height="59" rx="4"/><text x="415" y="5564">通过等差数列和等比数列的通项公式的比较使<tspan x="415" dy="15.7">学生初步体会到等差和等比的相似性，为下面</tspan><tspan x="415" dy="15.7">类比学习等比数列的性质，做好铺垫。</tspan></text></g>
<g id="b5-57" class="gr"><rect x="421" y="5632" width="245" height="28" rx="4"/><text x="428" y="5651">等比性质的研究是本节课的高潮，通过类比</text></g>
<g id="b5-58" class="gr"><rect x="408" y="5687" width="258" height="43" rx="4"/><text x="415" y="5705">关于例题设计：重知识的应用，具有开放性，<tspan x="415" dy="15.7">为使学生更好的掌握本节课的内容。</tspan></text></g>
<g id="b5-59" class="gr"><rect x="458" y="6003" width="208" height="28" rx="4"/><text x="465" y="6022">高中数学必修五教学设计相关文章：</text></g>
<g id="b5-60" class="gr"><rect x="266" y="5759" width="168" height="27" rx="4"/><text x="273" y="5777">★ 高二数学优秀教案5篇最新</text></g>
<g id="b5-61" class="gr"><rect x="335" y="5812" width="99" height="28" rx="4"/><text x="342" y="5831">★ 小学数学教案</text></g>
<g id="b5-62" class="gr"><rect x="249" y="5867" width="185" height="28" rx="4"/><text x="256" y="5886">★ 高一数学教案及说课最新范文</text></g>
<g id="b5-63" class="gr"><rect x="254" y="5922" width="180" height="28" rx="4"/><text x="261" y="5941">★ 人教版高三数学教案5篇最新</text></g>
<g id="b5-64" class="gr"><rect x="228" y="5976" width="206" height="28" rx="4"/><text x="235" y="5995">★ 高一数学教案的三维目标5篇最新</text></g>
<g id="b5-65" class="gr"><rect x="257" y="6031" width="177" height="28" rx="4"/><text x="264" y="6050">★ 高一数学教案大全2021文案</text></g>
<g id="b5-66" class="gr"><rect x="257" y="6086" width="177" height="27" rx="4"/><text x="264" y="6104">★ 2021高一数学教案分析案例</text></g>
<g id="b5-67" class="gr"><rect x="210" y="6140" width="224" height="28" rx="4"/><text x="217" y="6159">★ 最新高一数学教案必修一导教案文案</text></g>
<g id="b5-68" class="gr"><rect x="242" y="6195" width="192" height="27" rx="4"/><text x="249" y="6213">★ 高三一轮复习数学教案5篇最新</text></g>
<g id="b5-69" class="gr"><rect x="261" y="6250" width="173" height="27" rx="4"/><text x="268" y="6268">★ 高一数学教案范文最新模板</text></g>

<g id="b2-01" class="or"><rect x="1691" y="1152" width="62" height="27" rx="4"/><text x="1697" y="1170">教学准备</text></g>
<g id="b2-02" class="or"><rect x="1691" y="1206" width="62" height="27" rx="4"/><text x="1697" y="1224">教学目标</text></g>
<g id="b2-03" class="or"><rect x="1691" y="1260" width="124" height="28" rx="4"/><text x="1697" y="1279">解三角形及应用举例</text></g>
<g id="b2-04" class="or"><rect x="1691" y="1315" width="74" height="27" rx="4"/><text x="1697" y="1333">教学重难点</text></g>
<g id="b2-05" class="or"><rect x="1691" y="1369" width="124" height="28" rx="4"/><text x="1697" y="1388">解三角形及应用举例</text></g>
<g id="b2-06" class="or"><rect x="1691" y="1424" width="62" height="27" rx="4"/><text x="1697" y="1442">教学过程</text></g>
<g id="b2-07" class="or"><rect x="1691" y="1478" width="105" height="27" rx="4"/><text x="1697" y="1496">一. 基础知识精讲</text></g>
<g id="b2-08" class="or"><rect x="1691" y="1533" width="136" height="27" rx="4"/><text x="1697" y="1551">掌握三角形有关的定理</text></g>
<g id="b2-09" class="or"><rect x="1691" y="1619" width="234" height="28" rx="4"/><text x="1697" y="1638">利用正弦定理，可以解决以下两类问题：</text></g>
<g id="b2-10" class="or"><rect x="1948" y="1587" width="240" height="27" rx="4"/><text x="1954" y="1605">(1)已知两角和任一边，求其他两边和一角;</text></g>
<g id="b2-11" class="or"><rect x="1948" y="1642" width="258" height="43" rx="4"/><text x="1954" y="1660">(2)已知两边和其中一边的对角，求另一边的<tspan x="1954" dy="16">对角(从而进一步求出其他的边和角);</tspan></text></g>
<g id="b2-12" class="or"><rect x="1691" y="2044" width="234" height="28" rx="4"/><text x="1697" y="2063">利用余弦定理，可以解决以下两类问题：</text></g>
<g id="b2-13" class="or"><rect x="1948" y="2037" width="258" height="43" rx="4"/><text x="1954" y="2055">(1)已知三边，求三角;(2)已知两边和它们的夹<tspan x="1954" dy="16">角，求第三边和其他两角。</tspan></text></g>
<g id="b2-14" class="or"><rect x="2229" y="1712" width="258" height="60" rx="4"/><text x="2235" y="1730">掌握正弦定理、余弦定理及其变形形式，利用<tspan x="2235" dy="16">三角公式解一些有关三角形中的三角函数问题</tspan><tspan x="2235" dy="16">.</tspan></text></g>
<g id="b2-15" class="or"><rect x="2229" y="1799" width="78" height="27" rx="4"/><text x="2235" y="1817">二.问题讨论</text></g>
<g id="b2-16" class="or"><rect x="2229" y="1854" width="258" height="58" rx="4"/><text x="2235" y="1872">思维点拨：已知两边和其中一边的对角解三角<tspan x="2235" dy="16">形问题，用正弦定理解时要注意解的情况的</tspan><tspan x="2235" dy="16">讨论.</tspan></text></g>
<g id="b2-17" class="or"><rect x="2229" y="1940" width="258" height="60" rx="4"/><text x="2235" y="1958">思维点拨：三角形中的三角变换，应灵活运<tspan x="2235" dy="16">用正、余弦定理.在求值时，要利用三角函数</tspan><tspan x="2235" dy="16">的有关性质.</tspan></text></g>
<g id="b2-18" class="or"><rect x="2229" y="2025" width="258" height="43" rx="4"/><text x="2235" y="2043">例6：在某海滨城市附近海面有一台风，据监<tspan x="2235" dy="16">测，当前台</tspan></text></g>
<g id="b2-19" class="or"><rect x="2229" y="2096" width="258" height="27" rx="4"/><text x="2235" y="2114">风中心位于城市O(如图)的东偏南 方向</text></g>
<g id="b2-20" class="or"><rect x="2229" y="2151" width="258" height="42" rx="4"/><text x="2235" y="2169">300 km的海面P处，并以20 km/h的速度向<tspan x="2235" dy="16">西偏北的</tspan></text></g>
<g id="b2-21" class="or"><rect x="2229" y="2222" width="258" height="42" rx="4"/><text x="2235" y="2240">方向移动，台风侵袭的范围为圆形区域，当前<tspan x="2235" dy="16">半径为60 km，</tspan></text></g>
<g id="b2-22" class="or"><rect x="2229" y="2292" width="258" height="42" rx="4"/><text x="2235" y="2310">并以10 km/h的速度不断增大，问几小时后<tspan x="2235" dy="16">该城市开始受到</tspan></text></g>
<g id="b2-23" class="or"><rect x="2229" y="2361" width="258" height="28" rx="4"/><text x="2235" y="2380">台风的侵袭.</text></g>
<g id="b2-24" class="or"><rect x="1691" y="2559" width="68" height="27" rx="4"/><text x="1697" y="2577">一. 小结：</text></g>
<g id="b2-25" class="or"><rect x="1783" y="2490" width="243" height="28" rx="4"/><text x="1789" y="2509">1.利用正弦定理，可以解决以下两类问题：</text></g>
<g id="b2-26" class="or"><rect x="2050" y="2417" width="239" height="27" rx="4"/><text x="2056" y="2435">(1)已知两角和任一边，求其他两边和一角;</text></g>
<g id="b2-27" class="or"><rect x="2050" y="2471" width="258" height="59" rx="4"/><text x="2056" y="2489">(2)已知两边和其中一边的对角，求另一边的<tspan x="2056" dy="16">对角(从而进一步求出其他的边和角);2。利用</tspan><tspan x="2056" dy="16">余弦定理，可以解决以下两类问题：</tspan></text></g>
<g id="b2-28" class="or"><rect x="2050" y="2557" width="258" height="43" rx="4"/><text x="2056" y="2575">(1) 已知三边，求三角;(2)已知两边和它们的<tspan x="2056" dy="16">夹角，求第三边和其他两角。</tspan></text></g>
<g id="b2-29" class="or"><rect x="1783" y="2628" width="221" height="27" rx="4"/><text x="1789" y="2646">3.边角互化是解三角形问题常用的手段.</text></g>
<g id="b2-30" class="or"><rect x="2028" y="2628" width="135" height="27" rx="4"/><text x="2034" y="2646">三.作业：P80闯关训练</text></g>

<g id="b4-01" class="ye"><rect x="1691" y="2682" width="62" height="27" rx="4"/><text x="1697" y="2700">教学准备</text></g>
<g id="b4-02" class="ye"><rect x="1691" y="2737" width="62" height="27" rx="4"/><text x="1697" y="2755">教学目标</text></g>
<g id="b4-03" class="ye"><rect x="1691" y="2791" width="124" height="28" rx="4"/><text x="1697" y="2810">数列求和的综合应用</text></g>
<g id="b4-04" class="ye"><rect x="1691" y="2846" width="74" height="27" rx="4"/><text x="1697" y="2864">教学重难点</text></g>
<g id="b4-05" class="ye"><rect x="1691" y="2900" width="124" height="28" rx="4"/><text x="1697" y="2919">数列求和的综合应用</text></g>
<g id="b4-06" class="ye"><rect x="1691" y="2955" width="62" height="28" rx="4"/><text x="1697" y="2974">教学过程</text></g>
<g id="b4-07" class="ye"><rect x="1691" y="3009" width="62" height="27" rx="4"/><text x="1697" y="3027">典例分析</text></g>
<g id="b4-08" class="ye"><rect x="1691" y="3091" width="201" height="27" rx="4"/><text x="1697" y="3109">3.数列{an}的前n项和Sn=n2-7n-8,</text></g>
<g id="b4-09" class="ye"><rect x="1915" y="3064" width="128" height="27" rx="4"/><text x="1921" y="3082">(1) 求{an}的通项公式</text></g>
<g id="b4-10" class="ye"><rect x="1915" y="3119" width="144" height="27" rx="4"/><text x="1921" y="3137">(2) 求{|an|}的前n项和Tn</text></g>
<g id="b4-11" class="ye"><rect x="1691" y="3174" width="259" height="42" rx="4"/><text x="1697" y="3192">4.等差数列{an}的公差为 ,S100=145，则a1+<tspan x="1697" dy="16">a3 + a5 + …+a99=</tspan></text></g>
<g id="b4-12" class="ye"><rect x="1691" y="3243" width="259" height="44" rx="4"/><text x="1697" y="3261">5.已知方程(x2-2x+m)(x2-2x+n)=0的四个根<tspan x="1697" dy="16">组成一个首项为 的等差数列，则|m-n|=</tspan></text></g>
<g id="b4-13" class="ye"><rect x="1691" y="3333" width="259" height="44" rx="4"/><text x="1697" y="3351">6.数列{an}是等差数列，且a1=2,a1+a2+a3<tspan x="1697" dy="16">=12</tspan></text></g>
<g id="b4-14" class="ye"><rect x="1973" y="3313" width="124" height="28" rx="4"/><text x="1979" y="3332">(1)求{an}的通项公式</text></g>
<g id="b4-15" class="ye"><rect x="1973" y="3368" width="233" height="28" rx="4"/><text x="1979" y="3387">(2)令bn=anxn ,求数列{bn} 前n项和公式</text></g>
<g id="b4-16" class="ye"><rect x="1691" y="3423" width="259" height="60" rx="4"/><text x="1697" y="3441">7.四数中前三个数成等比数列，后三个数成等<tspan x="1697" dy="16">差数列，首末两项之和为21，中间两项之和</tspan><tspan x="1697" dy="16">为18，求此四个数</tspan></text></g>
<g id="b4-17" class="ye"><rect x="1691" y="3548" width="259" height="59" rx="4"/><text x="1697" y="3566">8. 在等差数列{an}中，a1=20，前n项和为Sn<tspan x="1697" dy="16">，且S10= S15，求当n为何值时，Sn有最大</tspan><tspan x="1697" dy="16">值，并求出它的最大值</tspan></text></g>
<g id="b4-18" class="ye"><rect x="1973" y="3509" width="225" height="27" rx="4"/><text x="1979" y="3527">. 已知数列{an}，an∈N，Sn= (an+2)2</text></g>
<g id="b4-19" class="ye"><rect x="1973" y="3563" width="136" height="28" rx="4"/><text x="1979" y="3582">(1)求证{an}是等差数列</text></g>
<g id="b4-20" class="ye"><rect x="1973" y="3618" width="250" height="28" rx="4"/><text x="1979" y="3637">(2)若bn= an-30 ,求数列{bn}前n项的最小值</text></g>
<g id="b4-21" class="ye"><rect x="1691" y="3935" width="252" height="28" rx="4"/><text x="1697" y="3954">0. 已知f(x)=x2 -2(n+1)x+ n2+5n-7 (n∈N)</text></g>
<g id="b4-22" class="ye"><rect x="1967" y="3927" width="258" height="43" rx="4"/><text x="1973" y="3945">(1)设f(x)的图象的顶点的横坐标构成数列{an}<tspan x="1973" dy="16">，求证 数列{an}是等差数列</tspan></text></g>
<g id="b4-23" class="ye"><rect x="2249" y="3673" width="258" height="43" rx="4"/><text x="2255" y="3691">(2设f(x)的图象的顶点到x轴的距离构成数列{<tspan x="2255" dy="16">dn}，求数列{dn}的前n项和.</tspan></text></g>
<g id="b4-24" class="ye"><rect x="2249" y="3744" width="258" height="105" rx="4"/><text x="2255" y="3762">11 .购买一件售价为5000元的商品，采用分<tspan x="2255" dy="16">期付款的办法，每期付款数相同，购买后1个</tspan><tspan x="2255" dy="16">月第1次付款，再过1个月第2次付款，如此下</tspan><tspan x="2255" dy="16">去，共付款5次后还清，如果按月利率0.8%，</tspan><tspan x="2255" dy="16">每月利息按复利计算(上月利息要计入下月本</tspan><tspan x="2255" dy="16">金)，那么每期应付款多少?</tspan></text></g>
<g id="b4-25" class="ye"><rect x="2249" y="3878" width="258" height="41" rx="4"/><text x="2255" y="3896">12 .某商品在最近100天内的价格f(t)与时间t<tspan x="2255" dy="16">的</tspan></text></g>
<g id="b4-26" class="ye"><rect x="2249" y="3948" width="108" height="28" rx="4"/><text x="2255" y="3967">函数关系是f(t)=</text></g>
<g id="b4-27" class="ye"><rect x="2249" y="4004" width="258" height="43" rx="4"/><text x="2255" y="4022">销售量g(t)与时间t的函数关系是g(t)= (0≤t<tspan x="2255" dy="16">≤100)，求这种商品的日销售额的最大值.</tspan></text></g>
</g>
</svg>
